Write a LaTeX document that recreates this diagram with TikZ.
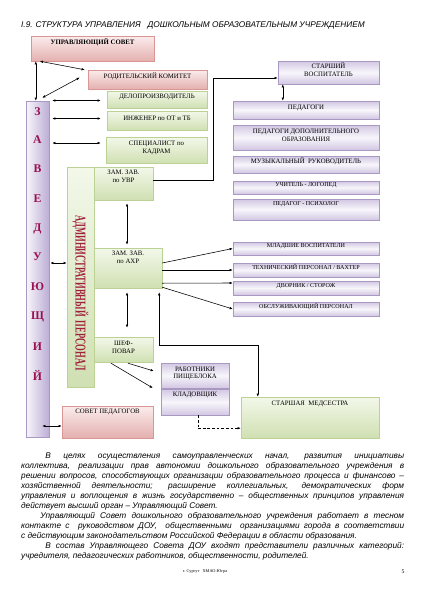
\documentclass[tikz,border=0pt]{standalone}
\usepackage{fontspec}
\setmainfont{Liberation Serif}
\newfontfamily\arial{Liberation Sans}
\usetikzlibrary{calc,fit,shadows,arrows.meta,backgrounds}
\definecolor{pkT}{HTML}{FBECEC}
\definecolor{pkB}{HTML}{E4B0AF}
\definecolor{pkD}{HTML}{D99694}
\definecolor{grT}{HTML}{F3F8EA}
\definecolor{grB}{HTML}{D0E0B2}
\definecolor{grD}{HTML}{BBD294}
\definecolor{vT}{HTML}{F8F6FB}
\definecolor{vE}{HTML}{D2C7E3}
\definecolor{vD}{HTML}{A898C2}
\definecolor{vB}{HTML}{BCADD6}
\definecolor{zC}{HTML}{9A1050}
\definecolor{admC}{HTML}{A0203A}
\newcommand\bxf{\fontsize{9.5}{10.5}\selectfont}
\newcommand\bxs{\fontsize{8.5}{9.5}\selectfont}
\begin{document}
\begin{tikzpicture}[x=1.4pt,y=-1.4pt,
  box/.style={draw, line width=0.6pt, inner sep=0pt, align=center, font=\bxf,
    drop shadow={shadow xshift=1pt, shadow yshift=-1pt, opacity=0.22}},
  pbox/.style={box, draw=pkD, top color=pkT, bottom color=pkB},
  gbox/.style={box, draw=grD, top color=grT, bottom color=grB},
  vbox/.style={box, draw=vD, top color=vE, bottom color=vE, middle color=vT},
  lbl/.style={inner sep=1.5pt, align=center, font=\bxf},
  tip/.style={-{Latex[length=4.5pt,width=3.6pt]}},
  arr/.style={line width=0.8pt, -{Latex[length=4.5pt,width=3.6pt]}},
  dbl/.style={line width=0.8pt, {Latex[length=4.5pt,width=3.6pt]}-{Latex[length=4.5pt,width=3.6pt]}},
  dsh/.style={line width=0.8pt, dash pattern=on 4pt off 2.5pt},
  zl/.style={font=\bfseries\fontsize{16.5}{16.5}\selectfont, text=zC, inner sep=0pt}
]
\fill[white] (0,0) rectangle (424,600);
\useasboundingbox (0,0) rectangle (424,600);

% title
\node[anchor=west, inner sep=0pt, font=\arial\itshape\fontsize{11.6}{14}\selectfont] (title) at (21,25)
  {I.9. СТРУКТУРА УПРАВЛЕНИЯ \ \ ДОШКОЛЬНЫМ ОБРАЗОВАТЕЛЬНЫМ УЧРЕЖДЕНИЕМ};

% left side
\node[pbox, fit={(31,36) (154,61)}, label={[lbl, anchor=north, yshift=-3pt, font=\bfseries\bxf]north:УПРАВЛЯЮЩИЙ СОВЕТ}] (us) {};
\node[pbox, fit={(88,70) (207,89)}] (rk) {РОДИТЕЛЬСКИЙ КОМИТЕТ};
\node[gbox, fit={(107,91) (207,108)}] (dp) {ДЕЛОПРОИЗВОДИТЕЛЬ};
\node[gbox, fit={(107,111) (207,130)}] (ing) {ИНЖЕНЕР по ОТ и ТБ};
\node[gbox, fit={(106,137) (207,163)}] (sk) {СПЕЦИАЛИСТ по\\КАДРАМ};

\node[box, draw=vD, left color=vT, right color=vB, fit={(26,101) (49,437)}] (zav) {};
\foreach \c/\y [count=\i] in {З/112,А/140,В/169,Е/199,Д/229,У/257,Ю/287,Щ/317,И/347,Й/375}
  \node[zl] (zl\i) at (37.5,\y) {\c};

\node[gbox, fit={(67,167) (94,387)}] (adm) {};
\node[rotate=-90, inner sep=0pt, text=admC, font=\bfseries\fontsize{15}{15}\selectfont] (admlbl) at (80.5,293)
  {\scalebox{0.8}[1.4]{АДМИНИСТРАТИВНЫЙ\ \ ПЕРСОНАЛ}};
\node[gbox, fit={(94,167) (153,200)}, label={[lbl, anchor=north, yshift=-3pt]north:ЗАМ. ЗАВ.\\по УВР}] (uvr) {};
\node[gbox, fit={(94,248) (162,288)}, label={[lbl, anchor=north, yshift=-3pt]north:ЗАМ. ЗАВ.\\по АХР}] (ahr) {};
\node[gbox, fit={(94,337) (153,362)}] (shef) {ШЕФ-\\ПОВАР};

\node[pbox, fit={(62,406) (153,438)}, label={[lbl, anchor=north, yshift=-3pt]north:СОВЕТ ПЕДАГОГОВ}] (sp) {};
\node[vbox, fit={(161,363) (229,388)}] (rp) {РАБОТНИКИ\\ПИЩЕБЛОКА};
\node[vbox, fit={(161,389) (229,415)}, label={[lbl, anchor=north, yshift=-3pt]north:КЛАДОВЩИК}] (kl) {};
\node[gbox, fit={(241,397) (379,438)}, label={[lbl, anchor=north, yshift=-4pt]north:СТАРШАЯ\ \ МЕДСЕСТРА}] (ms) {};

% right side
\node[vbox, fit={(278,61) (379,84)}] (sv) {СТАРШИЙ\\ВОСПИТАТЕЛЬ};
\node[vbox, fit={(233,101) (379,119)}] (ped) {ПЕДАГОГИ};
\node[vbox, fit={(233,125) (379,150)}] (pdo) {ПЕДАГОГИ ДОПОЛНИТЕЛЬНОГО\\ОБРАЗОВАНИЯ};
\node[vbox, fit={(233,156) (379,173)}] (mr) {МУЗЫКАЛЬНЫЙ\ \ РУКОВОДИТЕЛЬ};
\node[vbox, fit={(233,181) (379,194)}, font=\bxs] (ul) {УЧИТЕЛЬ - ЛОГОПЕД};
\node[vbox, fit={(233,199) (379,220)}, label={[lbl, anchor=north, yshift=-2.5pt, font=\bxs]north:ПЕДАГОГ - ПСИХОЛОГ}] (pp) {};
\node[vbox, fit={(233,242) (379,255)}, font=\bxs] (mv) {МЛАДШИЕ ВОСПИТАТЕЛИ};
\node[vbox, fit={(233,263) (379,277)}, font=\bxs] (tp) {ТЕХНИЧЕСКИЙ ПЕРСОНАЛ / ВАХТЕР};
\node[vbox, fit={(233,281) (379,295)}, font=\bxs] (dv) {ДВОРНИК / СТОРОЖ};
\node[vbox, fit={(233,302) (379,316)}, font=\bxs] (op) {ОБСЛУЖИВАЮЩИЙ ПЕРСОНАЛ};

% dashed connector behind boxes
\coordinate (dk) at ($(kl.south)+(3,13)$);
\begin{scope}[on background layer]
\draw[dsh] ($(shef.east)+(0,2)$) -| (dk);
\end{scope}
\draw[dsh] ($(kl.south)+(3,0)$) -- (dk);
\draw[dsh, tip] (dk) -- (dk -| ms.west);

% connectors
\draw[dbl] ($(us.south west)+(5,0)$) -- ($(zav.north west)+(10,0)$);
\draw[dbl] ($(us.south west)+(9,0)$) -- ($(rk.north west)+(-3,0)$);
\draw[dbl] ($(rk.west)+(-8,-2)$) -- ($(zav.north east)+(-7,-3)$);
\draw[dbl] ($(zav.east |- dp.west)+(3,1)$) -- ($(dp.west)+(-6,1)$);
\draw[dbl] ($(zav.east |- ing.west)+(3,-2)$) -- ($(ing.west)+(-6,-2)$);
\draw[dbl] ($(zav.east |- sk.west)+(3,-7)$) -- ($(sk.west)+(-5,-7)$);
\draw[dbl] ($(zav.east |- adm.west)+(1,-14)$) -- ($(adm.west)+(0,-14)$);
\draw[dbl] ($(zav.east |- sp.west)+(-7,4)$) -- ($(sp.west)+(0,4)$);

\draw[dbl] ($(uvr.south -| ahr.north)+(-1,3)$) -- ($(ahr.north)+(-1,-3)$);
\draw[dbl] ($(ahr.south)+(-1,4)$) -- ($(shef.north -| ahr.south)+(-1,-9)$);

\draw[arr] ($(ahr.east)+(0,-5)$) -- (mv.west);
\draw[arr] (ahr.east |- tp.west) -- (tp.west);
\draw[arr] ($(ahr.south east)+(0,-5)$) -- ($(dv.west)+(0,-5)$);
\draw[arr] ($(ahr.south east)+(0,-1)$) -- (op.west);

\draw[arr] ($(uvr.east)+(0,-3)$) -| ($(sv.west)+(-65,5.5)$) -- ($(sv.west)+(0,5.5)$);
\draw[dbl] ($(sv.south west)+(5,0)$) -- ($(ped.north west)+(50,0)$);

\draw[arr] ($(shef.south)+(4.5,1)$) -- ($(rp.west)+(-7,-4.5)$);
\draw[arr] ($(shef.south)+(-12.5,1)$) -- ($(kl.west)+(-8,-14)$);

\draw[dbl] ($(ahr.south east)+(-3,4)$) |- ($(ms.north west)+(17,-52)$) -- ($(ms.north west)+(17,0)$);

% paragraph text
\node[anchor=north west, inner sep=0pt] (txt) at (21,453) {\begin{minipage}{536.2pt}
\arial\itshape\fontsize{11.6}{14}\selectfont
\hyphenpenalty=10000 \tolerance=10000 \parindent=0pt
\hspace*{34pt}В целях осуществления самоуправленческих начал, развития инициативы\linebreak
коллектива, реализации прав автономии дошкольного образовательного учреждения в\linebreak
решении вопросов, способствующих организации образовательного процесса и финансово –\linebreak
хозяйственной деятельности; расширение коллегиальных, демократических форм\linebreak
управления и воплощения в жизнь государственно – общественных принципов управления\linebreak
действует высший орган – Управляющий Совет.\par
\hspace*{27pt}Управляющий Совет дошкольного образовательного учреждения работает в тесном\linebreak
контакте с \ руководством ДОУ, \ общественными \ организациями города в соответствии\linebreak
с действующим законодательством Российской Федерации в области образования.\par
\hspace*{34pt}В состав Управляющего Совета ДОУ входят представители различных категорий:\linebreak
учредителя, педагогических работников, общественности, родителей.\par
\end{minipage}};

\node[inner sep=0pt, font=\fontsize{6}{7}\selectfont] (ft) at (205,572) {г. Сургут \ \ ХМАО-Югра};
\node[inner sep=0pt, font=\fontsize{8}{9}\selectfont] (pg) at (403,572) {5};
\end{tikzpicture}
\end{document}
